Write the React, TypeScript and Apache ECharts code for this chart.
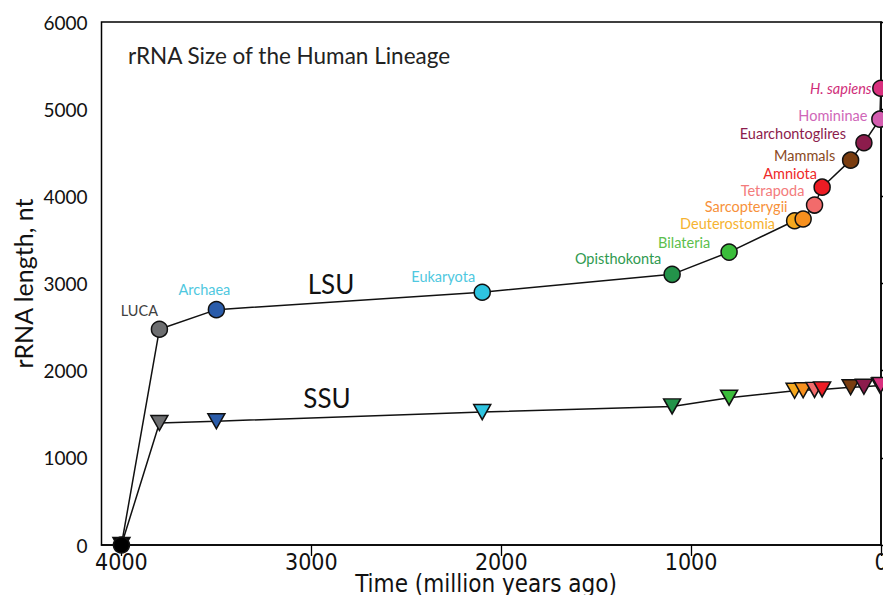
import React, { useEffect, useRef } from "react";
import * as echarts from "echarts";

// ---- data ----
const lineages = [
  "Origin",
  "LUCA",
  "Archaea",
  "Eukaryota",
  "Opisthokonta",
  "Bilateria",
  "Deuterostomia",
  "Sarcopterygii",
  "Tetrapoda",
  "Amniota",
  "Mammals",
  "Euarchontoglires",
  "Homininae",
  "H. sapiens",
];
const ageMya = [4000, 3800, 3500, 2100, 1100, 800, 455, 410, 350, 310, 160, 90, 6, 1];
const lsuNt = [0, 2475, 2700, 2900, 3105, 3360, 3720, 3740, 3900, 4105, 4415, 4615, 4885, 5240];
const ssuNt = [0, 1400, 1420, 1525, 1590, 1690, 1770, 1775, 1780, 1785, 1810, 1815, 1830, 1835];
const xTicks = [0, 1000, 2000, 3000, 4000];

// ---- styles ----
const markerColors = [
  "#000000", "#6d6e70", "#2a5caa", "#2ec4e0", "#23934a", "#3bbd3b", "#f6a81e",
  "#f7901e", "#f26b6b", "#ed1c24", "#7a3d10", "#8c1c4c", "#d45db0", "#d9307e",
];
const labelColors = [
  "#000000", "#404040", "#4fc8e0", "#4fc8e0", "#2f9a50", "#5cbf4c", "#f6b330",
  "#f7913a", "#f37b7b", "#ee2a2a", "#8b4a1e", "#8c1c4c", "#d066b8", "#d02e7a",
];
const labelOffsets: [number, number][] = [
  [0, 0], [-20, -19], [-12, -20], [-39, -16], [-54, -16], [-45, -10], [-67, 3],
  [-57, -12], [-42, -15], [-32, -14], [-46, -5], [-71, -9], [-47, -4], [-40, 0],
];

const MYRIAD = "Lato, 'Open Sans', sans-serif";
const NARROW = "'Liberation Sans Narrow', 'DejaVu Sans Condensed', sans-serif";

export default function App() {
  const ref = useRef<HTMLDivElement>(null);
  useEffect(() => {
    document.body.style.margin = "0";
    const chart = echarts.init(ref.current!, null, { renderer: "svg" });

    const lsuData = lineages.map((name, i) => ({
      name,
      value: [ageMya[i], lsuNt[i]],
      itemStyle: { color: markerColors[i] },
      label: {
        show: i > 0,
        formatter: name,
        position: "inside",
        offset: labelOffsets[i],
        color: labelColors[i],
        fontSize: 14.5,
        lineHeight: 15,
        fontFamily: MYRIAD,
        fontStyle: name === "H. sapiens" ? "italic" : "normal",
      },
    }));
    const ssuData = lineages.map((name, i) => ({
      name,
      value: [ageMya[i], ssuNt[i]],
      itemStyle: { color: markerColors[i] },
    }));

    chart.setOption({
      animation: false,
      backgroundColor: "#ffffff",
      grid: {
        left: 101.5,
        right: 2,
        top: 22,
        bottom: 50,
        outerBoundsMode: "none",
        containLabel: false,
        show: true,
        borderColor: "#000",
        borderWidth: 1.5,
      },
      xAxis: {
        type: "value",
        inverse: true,
        min: 0,
        max: 4105,
        axisLine: { show: true, lineStyle: { color: "#000", width: 1.5 } },
        axisTick: { show: true, length: 11, customValues: xTicks, lineStyle: { color: "#000", width: 1.3 } },
        axisLabel: {
          customValues: xTicks,
          formatter: (v: number) => String(v),
          fontFamily: NARROW,
          fontSize: 23,
          lineHeight: 22,
          color: "#111",
          margin: 6,
        },
        splitLine: { show: false },
      },
      yAxis: {
        type: "value",
        min: 0,
        max: 6000,
        interval: 1000,
        name: "rRNA length, nt",
        nameLocation: "middle",
        nameGap: 66,
        nameMoveOverlap: false,
        nameTextStyle: { fontFamily: MYRIAD, fontSize: 25, color: "#111" },
        axisLine: { show: true, lineStyle: { color: "#000", width: 1.5 } },
        axisTick: { show: true, inside: true, length: 11, lineStyle: { color: "#000", width: 1.3 } },
        axisLabel: {
          formatter: (v: number) => String(v),
          fontFamily: MYRIAD,
          fontSize: 19,
          color: "#111",
          margin: 14,
        },
        splitLine: { show: false },
      },
      graphic: [
        {
          type: "text",
          x: 128,
          y: 55,
          style: {
            text: "rRNA Size of the Human Lineage",
            font: `22.5px ${MYRIAD}`,
            fill: "#222",
            verticalAlign: "middle",
          },
        },
        {
          type: "text",
          x: 331,
          y: 284,
          style: { text: "LSU", font: `26px ${MYRIAD}`, fill: "#111", align: "center", verticalAlign: "middle" },
        },
        {
          type: "text",
          x: 327,
          y: 398,
          style: { text: "SSU", font: `26px ${MYRIAD}`, fill: "#111", align: "center", verticalAlign: "middle" },
        },
        {
          type: "text",
          x: 486,
          y: 572,
          style: {
            text: "Time (million years ago)",
            font: `24px ${NARROW}`,
            fill: "#111",
            align: "center",
            verticalAlign: "top",
          },
        },
      ],
      series: [
        {
          name: "SSU",
          type: "line",
          data: ssuData,
          symbol: "triangle",
          symbolRotate: 180,
          symbolSize: [17, 15],
          clip: false,
          lineStyle: { color: "#111", width: 1.5 },
          itemStyle: { borderColor: "#111", borderWidth: 1.5 },
          z: 2,
        },
        {
          name: "LSU",
          type: "line",
          data: lsuData,
          symbol: "circle",
          symbolSize: 16,
          clip: false,
          lineStyle: { color: "#111", width: 1.5 },
          itemStyle: { borderColor: "#111", borderWidth: 1.5 },
          z: 3,
        },
      ],
    });
    return () => chart.dispose();
  }, []);
  return <div ref={ref} style={{ width: 883, height: 595 }} />;
}
